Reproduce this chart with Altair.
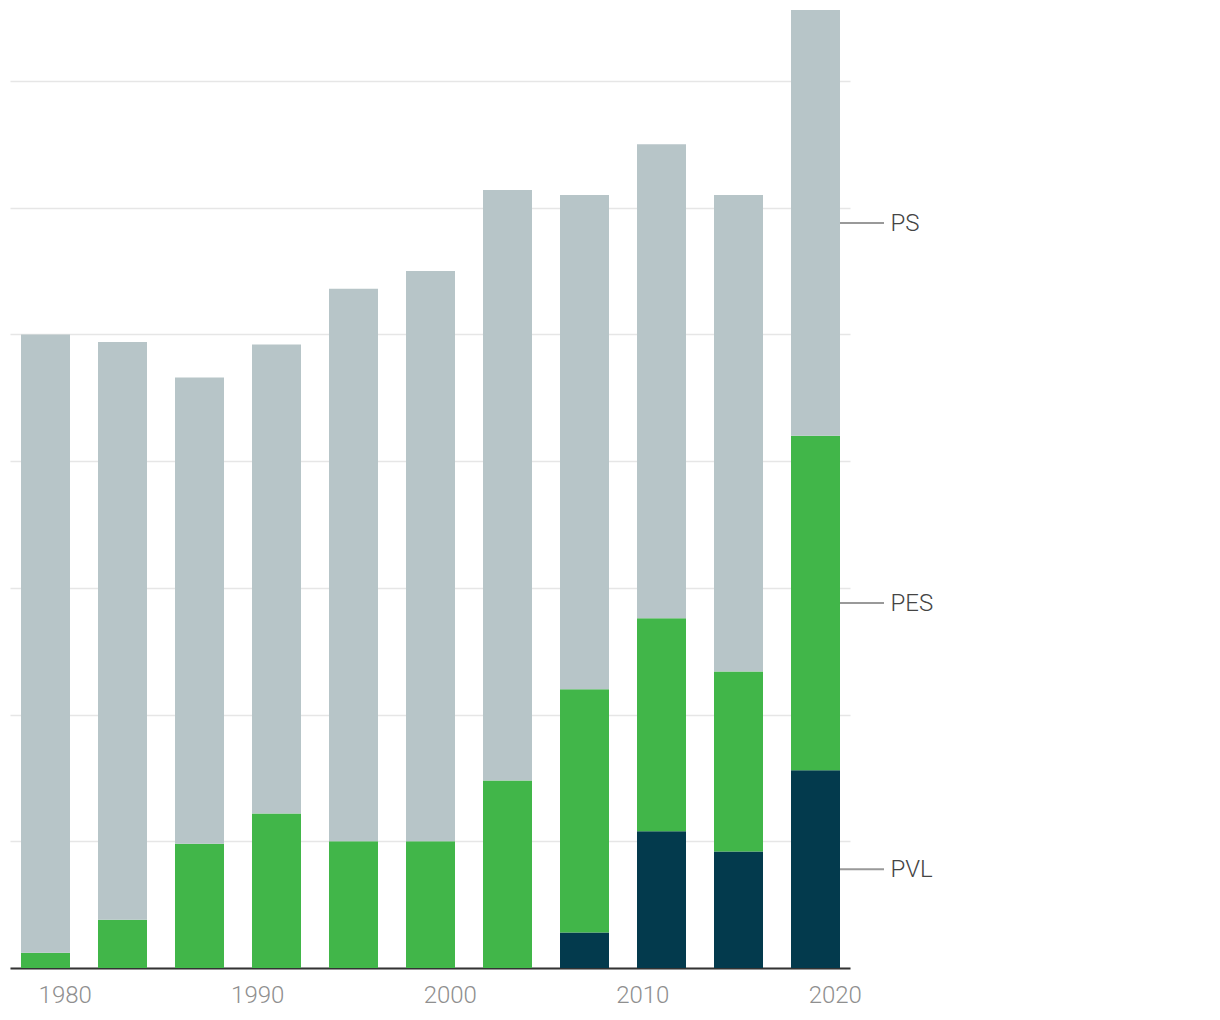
import altair as alt
import pandas as pd

years = [1979, 1983, 1987, 1991, 1995, 1999, 2003, 2007, 2011, 2015, 2019]
ps = [24.4, 22.8, 18.4, 18.5, 21.8, 22.5, 23.3, 19.5, 18.7, 18.8, 16.8]
pes = [0.6, 1.9, 4.9, 6.1, 5.0, 5.0, 7.4, 9.6, 8.4, 7.1, 13.2]
pvl = [0, 0, 0, 0, 0, 0, 0, 1.4, 5.4, 4.6, 7.8]
parties = ["PVL", "PES", "PS"]
colors = ["#033a4d", "#41b649", "#b7c5c8"]
tick_years = [1980, 1990, 2000, 2010, 2020]

rows = []
for i, y in enumerate(years):
    for k, (p, v) in enumerate(zip(parties, [pvl[i], pes[i], ps[i]])):
        rows.append({"year": y, "party": p, "value": v, "order": k})
df = pd.DataFrame(rows)

# label positions: middle of each segment of the last bar
last = [pvl[-1], pes[-1], ps[-1]]
lab = []
base = 0
for p, v in zip(parties, last):
    lab.append({"year": years[-1], "party": p, "mid": base + v / 2})
    base += v
ldf = pd.DataFrame(lab)

xscale = alt.Scale(domain=[1977.156, 2020.792], nice=False, zero=False, padding=0)
yscale = alt.Scale(domain=[0, 37.8], nice=False)

bars = alt.Chart(df).mark_bar(size=49).encode(
    x=alt.X("year:Q", scale=xscale,
            axis=alt.Axis(values=tick_years, format="d", title=None, grid=False,
                          ticks=False, domainColor="#333333", domainWidth=2,
                          labelColor="#8f8f8f", labelFontSize=24, labelFont="Roboto",
                          labelFontWeight=300, labelPadding=15)),
    y=alt.Y("value:Q", stack="zero", scale=yscale,
            axis=alt.Axis(values=[0, 5, 10, 15, 20, 25, 30, 35], labels=False, ticks=False,
                          domain=False, title=None, gridColor="#e6e6e6", gridWidth=1.5)),
    color=alt.Color("party:N", scale=alt.Scale(domain=parties, range=colors), legend=None),
    order=alt.Order("order:Q"),
)

rules = alt.Chart(ldf).mark_rule(color="#999999", strokeWidth=2, xOffset=24.5, x2Offset=68.5).encode(
    x=alt.X("year:Q", scale=xscale),
    x2="year:Q",
    y=alt.Y("mid:Q", scale=yscale),
)

texts = alt.Chart(ldf).mark_text(align="left", baseline="middle", dx=75, dy=1, fontSize=24,
                                 font="Roboto", fontWeight=300, color="#444444").encode(
    x=alt.X("year:Q", scale=xscale),
    y=alt.Y("mid:Q", scale=yscale),
    text="party:N",
)

chart = alt.layer(bars, rules, texts).properties(
    width=840, height=958,
    background="white",
    padding={"left": 2, "top": 2, "right": 5, "bottom": 5},
).configure_view(strokeWidth=0, stroke=None)

chart.save("out.html", embed_options={"renderer": "svg", "actions": False})
